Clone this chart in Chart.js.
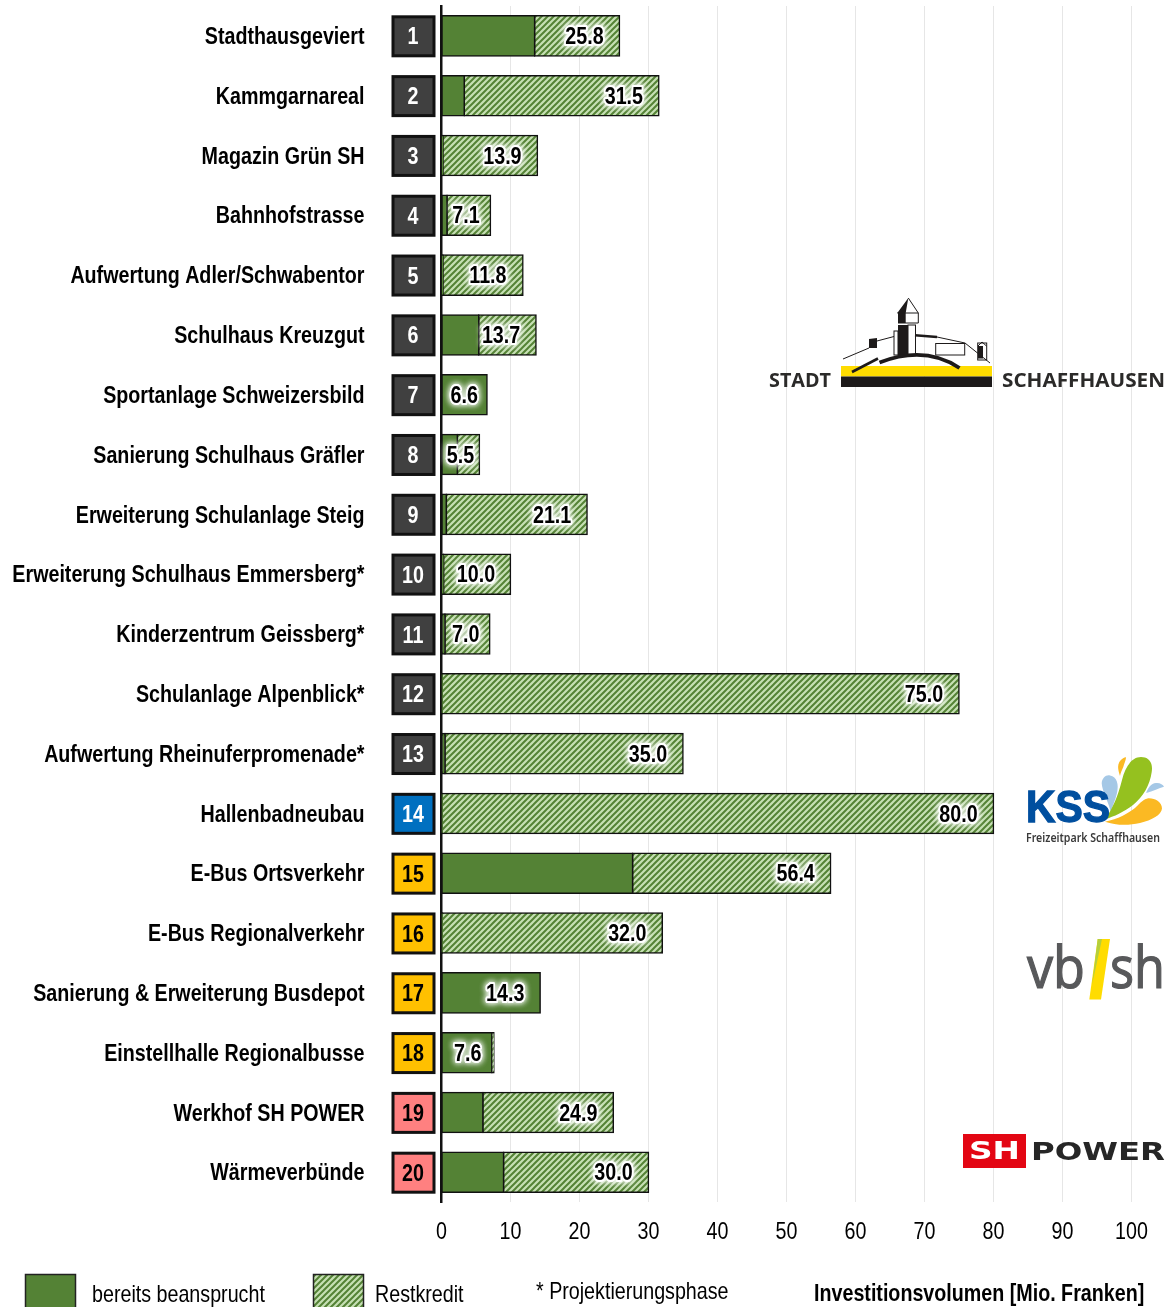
<!DOCTYPE html>
<html lang="de"><head><meta charset="utf-8">
<style>html,body{margin:0;padding:0;background:#fff}#w{position:relative;width:1168px;height:1307px;overflow:hidden}canvas{position:absolute;left:0;top:0}svg{position:absolute;left:0;top:0;pointer-events:none}</style>
<script src="https://cdn.jsdelivr.net/npm/chart.js@4"></script></head><body><div id="w">
<canvas id="c" width="1168" height="1307"></canvas>
<svg width="1168" height="1307" viewBox="0 0 1168 1307">
<!-- Stadt Schaffhausen -->
<rect x="841" y="366" width="151" height="10.5" fill="#ffdc00"/><rect x="841" y="376.5" width="151" height="10.5" fill="#1d1a1a"/>
<g fill="#fff" stroke="#1d1a1a" stroke-width="1"><rect x="894" y="331" width="4" height="24"/><rect x="908" y="325" width="7.5" height="30"/><rect x="935.7" y="343.5" width="29" height="11.5" fill="none"/><rect x="977.7" y="343" width="9" height="17"/></g>
<path d="M908.3 298 L897.3 313 H905.7Z M898 313 H905.7 V323 H898Z M898 325 H908 V355 H898Z M869 339 L877 338 V348 H869Z M978 346 H983 V358.5 H978Z" fill="#1d1a1a"/>
<path d="M908.3 298 L918.3 313 V323 H898 M897.3 313 H918.3" fill="none" stroke="#1d1a1a" stroke-width="1"/>
<path d="M843 359 L869 348 M877 341 L894 336.5 M937 337 L965 343 L990 363 M978 346 L982 342 L986.5 346" fill="none" stroke="#1d1a1a" stroke-width="1"/>
<path d="M915 335.3 L937 337" fill="none" stroke="#1d1a1a" stroke-width="2.4"/>
<path d="M879.5 362.5 Q925 345 959.5 368" fill="none" stroke="#1d1a1a" stroke-width="3.8"/>
<path d="M852 372 L878 358.5" fill="none" stroke="#1d1a1a" stroke-width="2.6"/>
<text x="769" y="387" font-family="Open Sans" font-weight="700" font-size="19.5" fill="#2b2a29" textLength="62" lengthAdjust="spacingAndGlyphs">STADT</text>
<text x="1002" y="387" font-family="Open Sans" font-weight="700" font-size="19.5" fill="#2b2a29" textLength="163" lengthAdjust="spacingAndGlyphs">SCHAFFHAUSEN</text>
<!-- KSS -->
<path d="M1101.7 783.3 C1102 778 1106 774.5 1110 775.5 C1117 777 1119 784 1117 793 C1115.5 800 1112 807 1110.7 812 C1109 803 1102 791 1101.7 783.3Z" fill="#a5c8e6"/>
<path d="M1146 793 C1148 788 1151 783.5 1156 783 C1160 782.6 1163 784.5 1164 786.7 C1159 788 1153 791 1146 793Z" fill="#a5c8e6"/>
<path d="M1120 776 C1118 770 1117 765 1120 761 C1122 758.5 1125 757 1126 757.3 C1126 760 1124 764 1123.3 767 C1122 770 1120.5 773 1120 776Z" fill="#fbb923"/>
<path d="M1105 819.3 C1113 808 1118 796 1122 780 C1125 768 1131 757 1141 757 C1150 757 1153 764 1151.7 772 C1150 785 1143 797 1133 805 C1124 812 1114 816.5 1105 819.3Z" fill="#95c11f"/>
<path d="M1105 821.7 C1118 819 1128 813.5 1135 808 C1140 803 1144 799 1148.3 798.3 C1155 798 1162 802 1162 808.5 C1161.5 815 1152 820 1140 823 C1127 826 1115 825 1105 821.7Z" fill="#fbb923"/>
<text x="1026" y="821.5" font-family="Liberation Sans" font-weight="700" font-size="44" fill="#004f9f" stroke="#004f9f" stroke-width="1.3" textLength="84" lengthAdjust="spacingAndGlyphs">KSS</text>
<text x="1026" y="842" font-family="Noto Sans" font-size="12" font-weight="600" fill="#3a3a3a" textLength="134" lengthAdjust="spacingAndGlyphs">Freizeitpark Schaffhausen</text>
<!-- vb/sh -->
<text x="1027" y="988" font-family="Open Sans" font-size="58" fill="#58595b" stroke="#58595b" stroke-width="1.2" textLength="58" lengthAdjust="spacingAndGlyphs">vb</text>
<text x="1110" y="988" font-family="Open Sans" font-size="58" fill="#58595b" stroke="#58595b" stroke-width="1.2" textLength="55" lengthAdjust="spacingAndGlyphs">sh</text>
<path d="M1097.7 939 H1110 L1101 999.5 H1089.3Z" fill="#ffdc00"/><path d="M1097.7 939 H1102 L1092 985Z" fill="#b5cf3c"/>
<!-- SH POWER -->
<rect x="963" y="1134" width="63" height="34" fill="#e30613"/>
<text x="969" y="1159" font-family="DejaVu Sans" font-weight="700" font-size="24" fill="#fff" textLength="51" lengthAdjust="spacingAndGlyphs">SH</text>
<text x="1031" y="1160" font-family="DejaVu Sans" font-weight="700" font-size="25" fill="#262626" textLength="134" lengthAdjust="spacingAndGlyphs">POWER</text>
</svg></div>
<script>
const categories=["Stadthausgeviert","Kammgarnareal","Magazin Grün SH","Bahnhofstrasse","Aufwertung Adler/Schwabentor","Schulhaus Kreuzgut","Sportanlage Schweizersbild","Sanierung Schulhaus Gräfler","Erweiterung Schulanlage Steig","Erweiterung Schulhaus Emmersberg*","Kinderzentrum Geissberg*","Schulanlage Alpenblick*","Aufwertung Rheinuferpromenade*","Hallenbadneubau","E-Bus Ortsverkehr","E-Bus Regionalverkehr","Sanierung & Erweiterung Busdepot","Einstellhalle Regionalbusse","Werkhof SH POWER","Wärmeverbünde"];
const totals=[25.8,31.5,13.9,7.1,11.8,13.7,6.6,5.5,21.1,10.0,7.0,75.0,35.0,80.0,56.4,32.0,14.3,7.6,24.9,30.0];
const used=[13.5,3.3,0.2,0.8,0.2,5.4,6.6,2.3,0.7,0.3,0.5,0.1,0.5,0.1,27.7,0.1,14.3,7.3,6.0,9.0];
const rest=[12.3,28.2,13.7,6.3,11.6,8.3,null,3.2,20.4,9.7,6.5,74.9,34.5,79.9,28.7,31.9,null,0.3,18.9,21.0];
const numbers=["1","2","3","4","5","6","7","8","9","10","11","12","13","14","15","16","17","18","19","20"];
const numberFills=["#404040","#404040","#404040","#404040","#404040","#404040","#404040","#404040","#404040","#404040","#404040","#404040","#404040","#0070c0","#ffc000","#ffc000","#ffc000","#ffc000","#ff8080","#ff8080"];
const numberText=["#fff","#fff","#fff","#fff","#fff","#fff","#fff","#fff","#fff","#fff","#fff","#fff","#fff","#fff","#000","#000","#000","#000","#000","#000"];
const xTicks=[0,10,20,30,40,50,60,70,80,90,100];
const legendItems=["bereits beansprucht","Restkredit"];
const noteText="* Projektierungsphase";
const axisTitle="Investitionsvolumen [Mio. Franken]";

const FONT='"Liberation Sans"';
const GREEN='#548235';
function tile(){const t=document.createElement('canvas');t.width=t.height=6;const g=t.getContext('2d');
 g.fillStyle='#c6e0b4';g.fillRect(0,0,6,6);g.strokeStyle=GREEN;g.lineWidth=2;
 g.beginPath();for(let i=-6;i<=12;i+=6){g.moveTo(i-1,7);g.lineTo(i+7,-1);}g.stroke();return t;}
const ctx0=document.getElementById('c').getContext('2d');
const hatch=ctx0.createPattern(tile(),'repeat');
// The chart's typeface is condensed: every canvas text call is narrowed about its anchor.
const SQUEEZE=0.82,NUDGE=1.5;
['fillText','strokeText'].forEach(m=>{const orig=ctx0[m].bind(ctx0);
 ctx0[m]=function(s,x,y,w){ctx0.save();ctx0.translate(x,y+NUDGE);ctx0.scale(SQUEEZE,1);orig(s,0,0);ctx0.restore();};});

const extras={id:'extras',
 afterDatasetsDraw(ch){const {ctx,scales:{x,y}}=ch;ctx.save();
  numbers.forEach((n,i)=>{const py=y.getPixelForValue(i)+0.4;
   ctx.fillStyle=numberFills[i];ctx.strokeStyle='#111';ctx.lineWidth=3;
   ctx.fillRect(393,py-19.5,41,39);ctx.strokeRect(393,py-19.5,41,39);
   ctx.fillStyle=numberText[i];ctx.font='bold 24px '+FONT;ctx.textAlign='center';ctx.textBaseline='middle';
   ctx.fillText(n,413,py);});
  totals.forEach((v,i)=>{const end=x.getPixelForValue(v),start=x.getPixelForValue(0),py=y.getPixelForValue(i);
   const px=Math.max(end-35,(start+end)/2),s=v.toFixed(1);
   ctx.font='bold 24px '+FONT;ctx.textAlign='center';ctx.textBaseline='middle';
   ctx.save();ctx.shadowColor='#fff';ctx.shadowBlur=6;ctx.strokeStyle='rgba(255,255,255,.95)';ctx.lineWidth=4;ctx.lineJoin='round';
   ctx.strokeText(s,px,py);ctx.strokeText(s,px,py);ctx.restore();
   ctx.fillStyle='#000';ctx.fillText(s,px,py);});
  ctx.textBaseline='middle';ctx.textAlign='left';
  ctx.fillStyle=GREEN;ctx.strokeStyle='#222';ctx.lineWidth=1.5;ctx.fillRect(25.5,1274.5,50,34);ctx.strokeRect(25.5,1274.5,50,34);
  ctx.fillStyle=hatch;ctx.fillRect(313.5,1274.5,50,34);ctx.strokeRect(313.5,1274.5,50,34);
  ctx.fillStyle='#000';ctx.font='24px '+FONT;
  ctx.fillText(legendItems[0],92,1294);ctx.fillText(legendItems[1],375,1294);ctx.fillText(noteText,536,1291);
  ctx.font='bold 24px '+FONT;ctx.fillText(axisTitle,814,1293);
  ctx.restore();}};

new Chart(ctx0,{type:'bar',plugins:[extras],
 data:{labels:categories,datasets:[
  {label:legendItems[0],data:used,backgroundColor:GREEN,borderColor:'#111',borderWidth:1.5,borderSkipped:false,inflateAmount:0.75},
  {label:legendItems[1],data:rest,backgroundColor:hatch,borderColor:'#111',borderWidth:1.5,borderSkipped:false,inflateAmount:0.75}]},
 options:{indexAxis:'y',responsive:false,animation:false,
  barPercentage:0.67,categoryPercentage:1,
  layout:{padding:{top:6,right:36.5,left:0,bottom:48}},
  plugins:{legend:{display:false},tooltip:{enabled:false}},
  scales:{
   x:{stacked:true,min:0,max:100,afterBuildTicks(a){a.ticks=xTicks.map(v=>({value:v}));},
      grid:{color:'#e6e6e6',lineWidth:1,drawTicks:false},border:{display:false},
      ticks:{color:'#000',font:{family:FONT,size:24},padding:14,maxRotation:0,autoSkip:false}},
   y:{stacked:true,afterFit(a){a.width=441.5;a.paddingTop=0;a.paddingBottom=0;},
      grid:{display:false,drawTicks:false},border:{color:'#111',width:2.5},
      ticks:{color:'#000',font:{family:FONT,size:24,weight:'bold'},padding:77,autoSkip:false}}
  }}});
</script></body></html>
